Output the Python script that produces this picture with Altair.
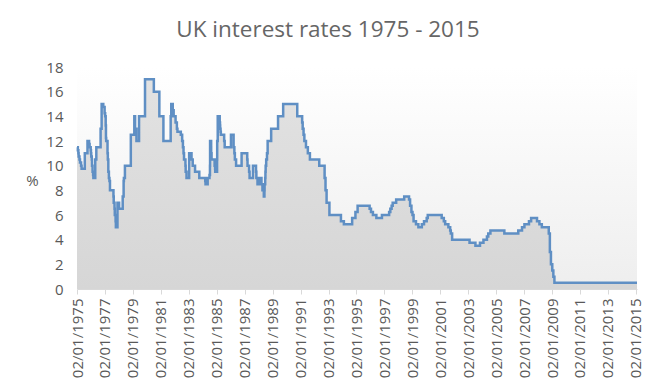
import altair as alt
import pandas as pd

dates = [
    "1975-01-02", "1975-01-24", "1975-02-07", "1975-02-14", "1975-03-07", "1975-03-21",
    "1975-04-18", "1975-05-02", "1975-07-25", "1975-10-03", "1975-11-14", "1975-11-28",
    "1975-12-26", "1976-01-02", "1976-01-09", "1976-01-23", "1976-01-30", "1976-02-13",
    "1976-02-27", "1976-03-05", "1976-04-23", "1976-05-21", "1976-09-10", "1976-10-07",
    "1976-11-19", "1976-12-24", "1977-01-07", "1977-01-21", "1977-01-28", "1977-02-03",
    "1977-03-10", "1977-03-18", "1977-03-31", "1977-04-15", "1977-04-29", "1977-05-13",
    "1977-08-12", "1977-08-19", "1977-09-09", "1977-09-16", "1977-10-07", "1977-10-14",
    "1977-11-25", "1978-01-06", "1978-04-11", "1978-05-05", "1978-05-12", "1978-06-08",
    "1978-11-09", "1979-02-08", "1979-03-01", "1979-04-05", "1979-06-12", "1979-11-15",
    "1980-07-03", "1980-11-24", "1981-03-10", "1981-09-16", "1981-10-01", "1981-11-09",
    "1981-12-03", "1982-01-22", "1982-02-25", "1982-03-12", "1982-06-08", "1982-07-13",
    "1982-08-02", "1982-08-18", "1982-08-31", "1982-10-07", "1982-10-13", "1982-11-04",
    "1983-01-12", "1983-03-15", "1983-04-15", "1983-06-15", "1983-10-04", "1984-03-07",
    "1984-03-15", "1984-05-10", "1984-06-27", "1984-07-09", "1984-07-12", "1984-08-09",
    "1984-08-10", "1984-08-20", "1984-11-07", "1984-11-20", "1984-11-23", "1985-01-11",
    "1985-01-14", "1985-01-28", "1985-03-21", "1985-03-29", "1985-04-02", "1985-04-12",
    "1985-04-19", "1985-07-15", "1985-07-29", "1986-01-09", "1986-03-19", "1986-04-08",
    "1986-04-21", "1986-05-23", "1986-10-14", "1987-03-10", "1987-03-18", "1987-04-28",
    "1987-05-11", "1987-08-07", "1987-10-26", "1987-11-04", "1987-12-04", "1988-02-02",
    "1988-03-17", "1988-04-11", "1988-05-17", "1988-06-02", "1988-06-06", "1988-06-22",
    "1988-06-28", "1988-07-04", "1988-07-18", "1988-08-08", "1988-08-25", "1988-11-25",
    "1989-05-24", "1989-10-05", "1990-10-08", "1991-02-13", "1991-02-27", "1991-03-22",
    "1991-04-12", "1991-05-24", "1991-07-12", "1991-09-04", "1992-05-05", "1992-09-22",
    "1992-10-16", "1992-11-13", "1993-01-26", "1993-11-23", "1994-02-08", "1994-09-12",
    "1994-12-07", "1995-02-02", "1995-12-13", "1996-01-18", "1996-03-08", "1996-06-06",
    "1996-10-30", "1997-05-06", "1997-06-06", "1997-07-10", "1997-08-07", "1997-11-06",
    "1998-06-04", "1998-10-08", "1998-11-05", "1998-12-10", "1999-01-07", "1999-02-04",
    "1999-04-08", "1999-06-10", "1999-09-08", "1999-11-04", "2000-01-13", "2000-02-10",
    "2001-02-08", "2001-04-05", "2001-05-10", "2001-08-02", "2001-09-18", "2001-10-04",
    "2001-11-08", "2003-02-06", "2003-07-10", "2003-11-06", "2004-02-05", "2004-05-06",
    "2004-06-10", "2004-08-05", "2005-08-04", "2006-08-03", "2006-11-09", "2007-01-11",
    "2007-05-10", "2007-07-05", "2007-12-06", "2008-02-07", "2008-04-10", "2008-10-08",
    "2008-11-06", "2008-12-04", "2009-01-08", "2009-02-05", "2009-03-05", "2015-02-01",
]
rates = [
    11.5, 11.25, 11.0, 10.75, 10.5, 10.25,
    10.0, 9.75, 11.0, 12.0, 11.75, 11.5,
    11.25, 11.0, 10.75, 10.5, 10.0, 9.5,
    9.25, 9.0, 10.5, 11.5, 13.0, 15.0,
    14.75, 14.25, 14.0, 13.25, 12.25, 12.0,
    11.0, 10.5, 9.5, 9.0, 8.75, 8.0,
    7.5, 7.0, 6.5, 6.0, 5.5, 5.0,
    7.0, 6.5, 7.5, 8.75, 9.0, 10.0,
    12.5, 14.0, 13.0, 12.0, 14.0, 17.0,
    16.0, 14.0, 12.0, 14.0, 15.0, 14.5,
    14.0, 13.5, 13.0, 12.75, 12.5, 12.0,
    11.5, 11.0, 10.5, 10.0, 9.5, 9.0,
    11.0, 10.5, 10.0, 9.5, 9.0, 8.75,
    8.5, 9.0, 9.25, 10.0, 12.0, 11.5,
    11.0, 10.5, 10.0, 9.75, 9.5, 10.5,
    12.0, 14.0, 13.5, 13.25, 13.0, 12.75,
    12.5, 12.0, 11.5, 12.5, 11.5, 11.0,
    10.5, 10.0, 11.0, 10.5, 10.0, 9.5,
    9.0, 10.0, 9.5, 9.0, 8.5, 9.0,
    8.5, 8.0, 7.5, 8.0, 8.5, 9.0,
    9.5, 10.0, 10.5, 11.0, 12.0, 13.0,
    14.0, 15.0, 14.0, 13.5, 13.0, 12.5,
    12.0, 11.5, 11.0, 10.5, 10.0, 9.0,
    8.0, 7.0, 6.0, 5.5, 5.25, 5.75,
    6.25, 6.75, 6.5, 6.25, 6.0, 5.75,
    6.0, 6.25, 6.5, 6.75, 7.0, 7.25,
    7.5, 7.25, 6.75, 6.25, 6.0, 5.5,
    5.25, 5.0, 5.25, 5.5, 5.75, 6.0,
    5.75, 5.5, 5.25, 5.0, 4.75, 4.5,
    4.0, 3.75, 3.5, 3.75, 4.0, 4.25,
    4.5, 4.75, 4.5, 4.75, 5.0, 5.25,
    5.5, 5.75, 5.5, 5.25, 5.0, 4.5,
    3.0, 2.0, 1.5, 1.0, 0.5, 0.5,
]
tick_years = list(range(1975, 2016, 2))
y_ticks = list(range(0, 19, 2))

df = pd.DataFrame({"date": dates, "rate": rates})

W, H = 560, 222
TXT = "#595959"

xscale = alt.Scale(
    type="utc",
    domain=[alt.DateTime(year=1975, month=1, date=2, utc=True),
            alt.DateTime(year=2015, month=2, date=1, utc=True)],
)
x_enc = alt.X(
    "date:T",
    scale=xscale,
    axis=alt.Axis(
        title=None,
        values=[alt.DateTime(year=y, month=1, date=2, utc=True) for y in tick_years],
        labelExpr="utcFormat(datum.value, '%d/%m/%Y')",
        labelAngle=270,
        labelFontSize=15,
        labelFont="Open Sans",
        labelColor=TXT,
        labelPadding=4,
        domainColor="#d9d9d9",
        tickColor="#d9d9d9",
        tickSize=5,
        grid=False,
        labelOverlap=False,
        labelFlush=False,
    ),
)
y_enc = alt.Y(
    "rate:Q",
    scale=alt.Scale(domain=[0, 18], nice=False),
    axis=alt.Axis(
        title="%",
        titleAngle=0,
        titleFontSize=15,
        titleFont="Open Sans",
        titleFontWeight="normal",
        titleColor=TXT,
        titleX=-45,
        titleY=113,
        titleAlign="center",
        titleBaseline="middle",
        values=y_ticks,
        labelFontSize=15,
        labelFont="Open Sans",
        labelColor=TXT,
        labelPadding=14,
        domain=False,
        ticks=False,
        grid=False,
    ),
)

bg_grad = alt.Gradient(
    gradient="linear",
    stops=[alt.GradientStop(color="#ffffff", offset=0),
           alt.GradientStop(color="#eeeeee", offset=1)],
    x1=0, x2=0, y1=0, y2=1,
)
area_grad = alt.Gradient(
    gradient="linear",
    stops=[alt.GradientStop(color="#e2e2e2", offset=0),
           alt.GradientStop(color="#d6d6d6", offset=1)],
    x1=0, x2=0, y1=0, y2=1,
)

bg = alt.Chart(pd.DataFrame({"a": [0]})).mark_rect(color=bg_grad).encode(
    x=alt.value(0), x2=alt.value(W), y=alt.value(0), y2=alt.value(H)
)
area = alt.Chart(df).mark_area(interpolate="step-after", color=area_grad).encode(
    x=x_enc, y=y_enc
)
line = alt.Chart(df).mark_line(
    interpolate="step-after", color="#5f8fc4", strokeWidth=2.5
).encode(x=x_enc, y=y_enc)

chart = alt.layer(bg, area, line).properties(
    width=W,
    height=H,
    title=alt.TitleParams(
        "UK interest rates 1975 - 2015",
        fontSize=22.5,
        font="Open Sans",
        fontWeight="normal",
        color="#666666",
        anchor="middle",
        dx=-29,
        offset=19,
    ),
    autosize=alt.AutoSizeParams(type="none"),
    padding={"left": 69, "top": 59, "right": 13, "bottom": 90},
).configure_view(stroke=None)

chart.save("out.html", embed_options={"renderer": "svg", "actions": False})
